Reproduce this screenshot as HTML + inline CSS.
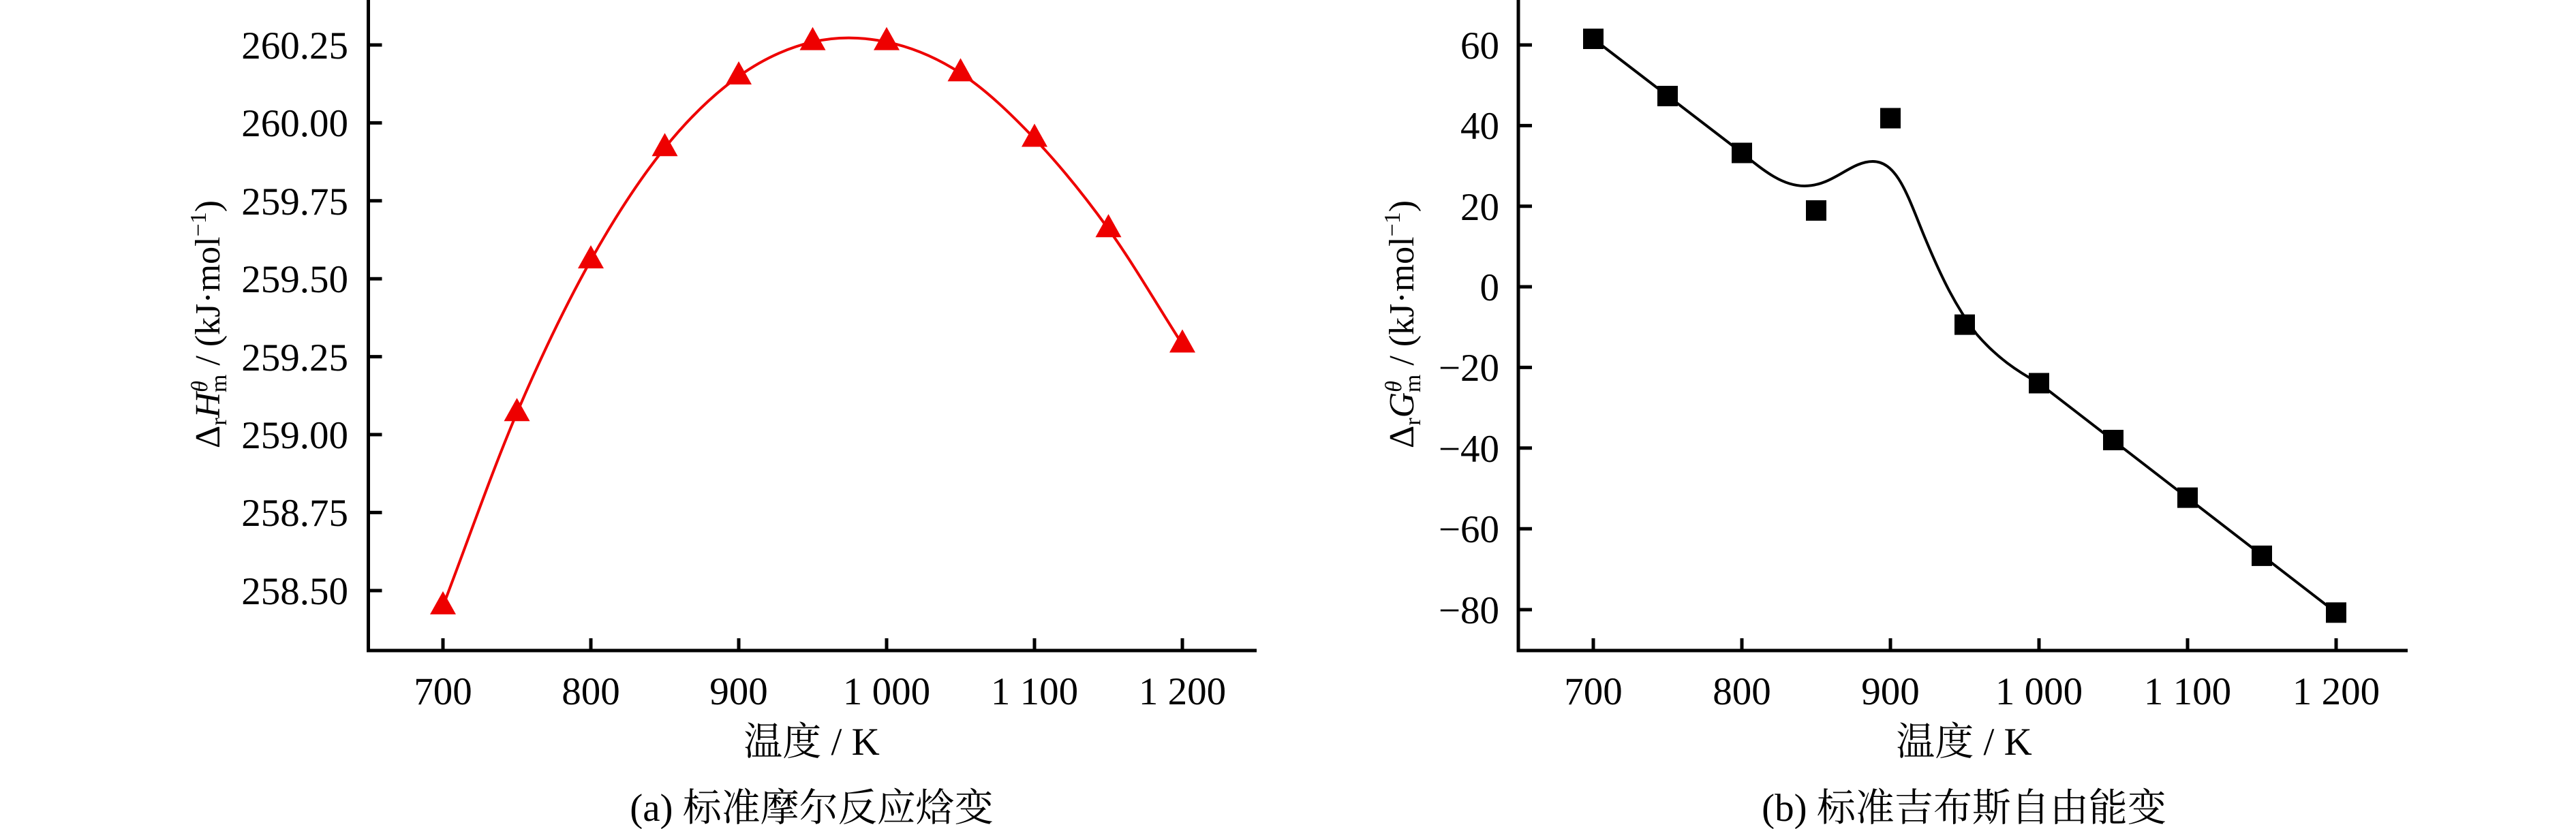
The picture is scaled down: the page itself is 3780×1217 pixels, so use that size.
<!DOCTYPE html>
<html><head><meta charset="utf-8"><style>html,body{margin:0;padding:0;background:#fff}svg{display:block}</style></head>
<body>
<svg width="3780" height="1217" viewBox="0 0 3780 1217" xmlns="http://www.w3.org/2000/svg" font-family="'Liberation Serif','Noto Serif CJK SC',serif">
<rect width="3780" height="1217" fill="#fff"/>
<!-- Panel A -->
<g stroke="#000" stroke-width="5" fill="none">
<path d="M540.5,0 V955 H1844"/>
<path d="M650,955v-18M867,955v-18M1084,955v-18M1301,955v-18M1518,955v-18M1735,955v-18"/>
<path d="M540.5,66h20M540.5,180.4h20M540.5,294.8h20M540.5,409.2h20M540.5,523.6h20M540.5,638h20M540.5,752.4h20M540.5,867h20"/>
</g>
<g font-size="57" text-anchor="end">
<text x="511" y="86">260.25</text><text x="511" y="200">260.00</text><text x="511" y="315">259.75</text><text x="511" y="429">259.50</text><text x="511" y="544">259.25</text><text x="511" y="658">259.00</text><text x="511" y="772">258.75</text><text x="511" y="887">258.50</text>
</g>
<g font-size="57" text-anchor="middle">
<text x="650" y="1034">700</text><text x="867" y="1034">800</text><text x="1084" y="1034">900</text><text x="1301" y="1034">1 000</text><text x="1518" y="1034">1 100</text><text x="1735" y="1034">1 200</text>
<text x="1191" y="1108">温度 / K</text>
<text x="1191" y="1205">(a) 标准摩尔反应焓变</text>
</g>
<text transform="translate(322,476) rotate(-90)" text-anchor="middle" font-size="52">Δ<tspan font-size="34" dy="10">r</tspan><tspan dy="-10" font-style="italic">H</tspan><tspan font-size="34" dy="-18" font-style="italic">θ</tspan><tspan font-size="34" dx="-17" dy="28">m</tspan><tspan dy="-10"> / (kJ·mol</tspan><tspan font-size="34" dy="-20">−1</tspan><tspan dy="20">)</tspan></text>
<path fill="none" stroke="#e00" stroke-width="4" d="M650,889.9 C686.2,795.3 722.3,690.9 758.5,606.2 C794.7,521.6 830.8,446.8 867,382 C903.2,317.2 939.3,262.2 975.5,217.2 C1011.7,172.2 1047.8,137.9 1084,112 C1120.2,86.1 1156.3,70 1192.5,61.6 C1228.7,53.2 1264.8,54 1301,61.6 C1337.2,69.2 1373.3,83.8 1409.5,107.4 C1445.7,131.1 1481.8,165.4 1518,203.5 C1554.2,241.6 1590.3,285.9 1626.5,336.2 C1662.7,386.5 1698.8,449.1 1735,505.5"/>
<g fill="#e00">
<path d="M650,889.9 m-19,12 l19,-34 l19,34z"/>
<path d="M758.5,606.2 m-19,12 l19,-34 l19,34z"/>
<path d="M867,382 m-19,12 l19,-34 l19,34z"/>
<path d="M975.5,217.2 m-19,12 l19,-34 l19,34z"/>
<path d="M1084,112 m-19,12 l19,-34 l19,34z"/>
<path d="M1192.5,61.6 m-19,12 l19,-34 l19,34z"/>
<path d="M1301,61.6 m-19,12 l19,-34 l19,34z"/>
<path d="M1409.5,107.4 m-19,12 l19,-34 l19,34z"/>
<path d="M1518,203.5 m-19,12 l19,-34 l19,34z"/>
<path d="M1626.5,336.2 m-19,12 l19,-34 l19,34z"/>
<path d="M1735,505.5 m-19,12 l19,-34 l19,34z"/>
</g>
<!-- Panel B -->
<g stroke="#000" stroke-width="5" fill="none">
<path d="M2228,0 V955 H3533"/>
<path d="M2338,955v-18M2556,955v-18M2774,955v-18M2992,955v-18M3210,955v-18M3428,955v-18"/>
<path d="M2228,66h20M2228,184.4h20M2228,302.8h20M2228,421h20M2228,539.4h20M2228,657.8h20M2228,776.2h20M2228,895h20"/>
</g>
<g font-size="57" text-anchor="end">
<text x="2200" y="86">60</text><text x="2200" y="204">40</text><text x="2200" y="323">20</text><text x="2200" y="441">0</text><text x="2200" y="559">−20</text><text x="2200" y="678">−40</text><text x="2200" y="796">−60</text><text x="2200" y="915">−80</text>
</g>
<g font-size="57" text-anchor="middle">
<text x="2338" y="1034">700</text><text x="2556" y="1034">800</text><text x="2774" y="1034">900</text><text x="2992" y="1034">1 000</text><text x="3210" y="1034">1 100</text><text x="3428" y="1034">1 200</text>
<text x="2882" y="1108">温度 / K</text>
<text x="2882" y="1205">(b) 标准吉布斯自由能变</text>
</g>
<text transform="translate(2074,476) rotate(-90)" text-anchor="middle" font-size="52">Δ<tspan font-size="34" dy="10">r</tspan><tspan dy="-10" font-style="italic">G</tspan><tspan font-size="34" dy="-18" font-style="italic">θ</tspan><tspan font-size="34" dx="-17" dy="28">m</tspan><tspan dy="-10"> / (kJ·mol</tspan><tspan font-size="34" dy="-20">−1</tspan><tspan dy="20">)</tspan></text>
<path fill="none" stroke="#000" stroke-width="4" d="M2338,57 L2540,212 C2580,243 2610,273 2648,273 C2690,273 2715,237 2748,237 C2785,237 2800,290 2825,350 C2850,410 2870,450 2900,490 C2930,525 2960,545 2992,562.5 L3428,899.3"/>
<g fill="#000">
<rect x="2323" y="42" width="30" height="30"/>
<rect x="2432" y="126" width="30" height="30"/>
<rect x="2541" y="209.5" width="30" height="30"/>
<rect x="2650" y="294" width="30" height="30"/>
<rect x="2759" y="158.5" width="30" height="30"/>
<rect x="2868" y="461.6" width="30" height="30"/>
<rect x="2977" y="547.5" width="30" height="30"/>
<rect x="3086" y="631" width="30" height="30"/>
<rect x="3195" y="715.6" width="30" height="30"/>
<rect x="3304" y="800.9" width="30" height="30"/>
<rect x="3413" y="884.3" width="30" height="30"/>
</g>
</svg>
</body></html>
